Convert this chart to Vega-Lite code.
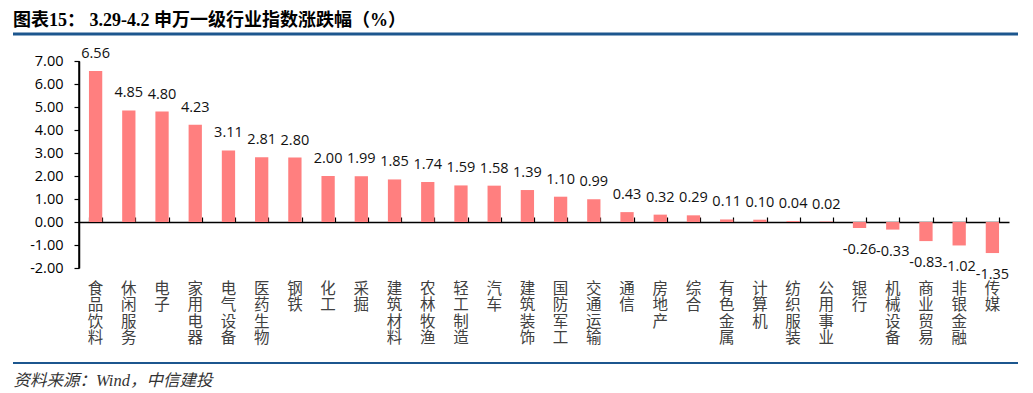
{
  "$schema": "https://vega.github.io/schema/vega-lite/v6.json",
  "width": 930,
  "height": 329,
  "autosize": {"type": "none"},
  "padding": {"left": 79, "top": 34, "right": 24, "bottom": 30},
  "background": "white",
  "config": {"view": {"stroke": null}},
  "title": {
    "text": "图表15：  3.29-4.2  申万一级行业指数涨跌幅（%）",
    "anchor": "start",
    "frame": "group",
    "dx": -66,
    "font": "'Liberation Serif', 'Noto Sans CJK SC'",
    "fontSize": 18,
    "fontWeight": "bold",
    "color": "#000000",
    "baseline": "bottom",
    "offset": -15
  },
  "data": {
    "values": [
      {"industry": "食品饮料", "value": 6.56},
      {"industry": "休闲服务", "value": 4.85},
      {"industry": "电子", "value": 4.80},
      {"industry": "家用电器", "value": 4.23},
      {"industry": "电气设备", "value": 3.11},
      {"industry": "医药生物", "value": 2.81},
      {"industry": "钢铁", "value": 2.80},
      {"industry": "化工", "value": 2.00},
      {"industry": "采掘", "value": 1.99},
      {"industry": "建筑材料", "value": 1.85},
      {"industry": "农林牧渔", "value": 1.74},
      {"industry": "轻工制造", "value": 1.59},
      {"industry": "汽车", "value": 1.58},
      {"industry": "建筑装饰", "value": 1.39},
      {"industry": "国防军工", "value": 1.10},
      {"industry": "交通运输", "value": 0.99},
      {"industry": "通信", "value": 0.43},
      {"industry": "房地产", "value": 0.32},
      {"industry": "综合", "value": 0.29},
      {"industry": "有色金属", "value": 0.11},
      {"industry": "计算机", "value": 0.10},
      {"industry": "纺织服装", "value": 0.04},
      {"industry": "公用事业", "value": 0.02},
      {"industry": "银行", "value": -0.26},
      {"industry": "机械设备", "value": -0.33},
      {"industry": "商业贸易", "value": -0.83},
      {"industry": "非银金融", "value": -1.02},
      {"industry": "传媒", "value": -1.35}
    ]
  },
  "layer": [
    {
      "mark": {"type": "bar", "color": "#FF7F7F"},
      "encoding": {
        "x": {
          "field": "industry",
          "type": "nominal",
          "sort": null,
          "scale": {"type": "band", "paddingInner": 0.6, "paddingOuter": 0.3},
          "axis": {
            "orient": "bottom",
            "offset": -82,
            "domain": false,
            "ticks": false,
            "grid": false,
            "labelAngle": 0,
            "labelPadding": 0,
            "labelBaseline": "top",
            "labelAlign": "center",
            "labelFont": "Noto Sans CJK SC",
            "labelFontSize": 15.5,
            "labelLineHeight": 16.5,
            "labelColor": "#404040",
            "labelOverlap": false,
            "labelExpr": "split(datum.label, '')",
            "title": "资料来源：Wind，中信建投",
            "titleX": -66,
            "titleY": 99,
            "titleAlign": "left",
            "titleAnchor": null,
            "titleBaseline": "middle",
            "titleFont": "'Liberation Serif', 'Noto Sans CJK SC'",
            "titleFontStyle": "italic",
            "titleFontWeight": "normal",
            "titleFontSize": 16.5,
            "titleColor": "#333333"
          }
        },
        "y": {
          "field": "value",
          "type": "quantitative",
          "scale": {"domain": [-2, 7], "range": [234, 27], "nice": false},
          "axis": {
            "orient": "left",
            "offset": 0,
            "tickCount": 9,
            "labelExpr": "replace(format(datum.value, '.2f'), '\u2212', '-')",
            "labelOverlap": false,
            "grid": false,
            "domain": false,
            "ticks": false,
            "labelPadding": 16,
            "labelFont": "Open Sans",
            "labelFontSize": 14.5,
            "labelColor": "#000000",
            "title": null
          }
        }
      }
    },
    {
      "transform": [
        {"calculate": "datum.value >= 0 ? replace(format(datum.value, '.2f'), '\u2212', '-') : ''", "as": "lbl"}
      ],
      "mark": {"type": "text", "baseline": "alphabetic", "align": "center", "dy": -13, "font": "Open Sans", "fontSize": 14.5, "color": "#111111"},
      "encoding": {
        "x": {
          "field": "industry",
          "type": "nominal",
          "sort": null,
          "scale": {"type": "band", "paddingInner": 0.6, "paddingOuter": 0.3},
          "axis": {
            "orient": "bottom",
            "offset": -141,
            "domain": true,
            "domainColor": "#000000",
            "domainWidth": 1.5,
            "ticks": true,
            "tickBand": "extent",
            "tickSize": -5,
            "tickColor": "#000000",
            "tickWidth": 1.2,
            "labels": false,
            "grid": false,
            "title": null
          }
        },
        "y": {
          "field": "value",
          "type": "quantitative",
          "scale": {"domain": [-2, 7], "range": [234, 27], "nice": false},
          "axis": {
            "orient": "left",
            "offset": 0,
            "tickCount": 9,
            "domain": true,
            "domainColor": "#000000",
            "domainWidth": 1.5,
            "ticks": true,
            "tickSize": 5,
            "tickColor": "#000000",
            "tickWidth": 1.2,
            "labels": false,
            "grid": false,
            "title": null
          }
        },
        "text": {"field": "lbl", "type": "nominal"}
      }
    },
    {
      "transform": [
        {"calculate": "datum.value < 0 ? replace(format(datum.value, '.2f'), '\u2212', '-') : ''", "as": "lbl"}
      ],
      "mark": {"type": "text", "baseline": "alphabetic", "align": "center", "dy": 26, "font": "Open Sans", "fontSize": 14.5, "color": "#111111"},
      "encoding": {
        "x": {
          "field": "industry",
          "type": "nominal",
          "sort": null,
          "scale": {"type": "band", "paddingInner": 0.6, "paddingOuter": 0.3},
          "axis": null
        },
        "y": {
          "field": "value",
          "type": "quantitative",
          "scale": {"domain": [-2, 7], "range": [234, 27], "nice": false},
          "axis": null
        },
        "text": {"field": "lbl", "type": "nominal"}
      }
    },
    {
      "data": {"values": [{}]},
      "mark": {"type": "rule", "color": "#000000", "strokeWidth": 1.5},
      "encoding": {
        "x": {"datum": 0, "type": "quantitative", "scale": {"domain": [0, 1], "range": [0, 930]}, "axis": null},
        "y": {"datum": -2, "type": "quantitative", "scale": {"domain": [-2, 7], "range": [234, 27], "nice": false}, "axis": null},
        "y2": {"datum": 7}
      }
    },
    {
      "data": {"values": [{}]},
      "mark": {"type": "rule", "color": "#1C568E", "strokeWidth": 3},
      "encoding": {
        "x": {"datum": 0, "type": "quantitative", "scale": {"domain": [0, 1], "range": [-66, 939]}, "axis": null},
        "x2": {"datum": 1},
        "y": {"datum": 1, "type": "quantitative", "scale": {"domain": [0, 1]}, "axis": null}
      }
    },
    {
      "data": {"values": [{}]},
      "mark": {"type": "rule", "color": "#1C568E", "strokeWidth": 2},
      "encoding": {
        "x": {"datum": 0, "type": "quantitative", "scale": {"domain": [0, 1], "range": [-66, 939]}, "axis": null},
        "x2": {"datum": 1},
        "y": {"datum": 0, "type": "quantitative", "scale": {"domain": [0, 1]}, "axis": null}
      }
    }
  ],
  "resolve": {"scale": {"x": "independent", "y": "independent"}, "axis": {"x": "independent", "y": "independent"}}
}
